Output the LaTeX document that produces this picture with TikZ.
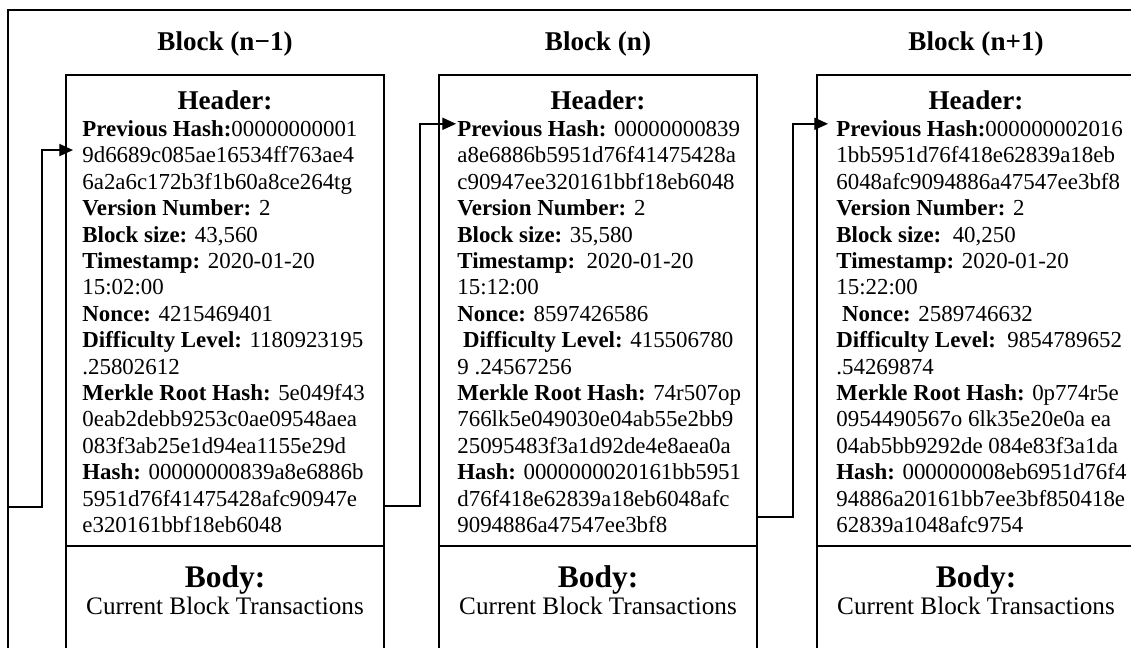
\documentclass[tikz,border=0pt]{standalone}
\usepackage{fontspec}
\setmainfont{Liberation Serif}
\usetikzlibrary{arrows.meta,calc}
\newlength\pxu
\setlength\pxu{0.524pt}
\tikzset{
  blockbox/.style={draw, line width=1pt, rectangle, inner sep=0pt, outer sep=0pt,
    minimum width=318\pxu, anchor=north west},
  link/.style={line width=0.75pt, -{Triangle[length=7.2pt,width=6.4pt]}},
  frameline/.style={line width=0.8pt},
  blocktitle/.style={font=\fontsize{14.2}{17}\selectfont\bfseries, anchor=base, inner sep=0pt},
  hdrlabel/.style={font=\fontsize{14.2}{17}\selectfont\bfseries, anchor=base, inner sep=0pt},
  bodylabel/.style={font=\fontsize{16.5}{20}\selectfont\bfseries, anchor=base, inner sep=0pt},
  bodytext/.style={font=\fontsize{13.2}{16}\selectfont, anchor=base, inner sep=0pt},
  field/.style={font=\fontsize{12}{14}\selectfont, anchor=base west, inner sep=0pt},
}
\begin{document}
\begin{tikzpicture}[x=0.524pt, y=-0.524pt]
  \path[use as bounding box] (0,0) rectangle (1131,648);
  \fill[white] (0,0) rectangle (1131,648);
  \clip (0,0) rectangle (1131,648);

  % outer frame (open at the bottom and on the right)
  \draw[frameline] (8,660) -- (8,10) -- (1140,10);
  \coordinate (inA) at (8,507);

  % header and body boxes of the three blocks
  \node[blockbox, minimum height=471\pxu] (hA) at (66,75) {};
  \node[blockbox, minimum height=120\pxu] (bA) at (hA.south west) {};
  \node[blockbox, minimum height=471\pxu] (hB) at (439,75) {};
  \node[blockbox, minimum height=120\pxu] (bB) at (hB.south west) {};
  \node[blockbox, minimum height=471\pxu] (hC) at (817,75) {};
  \node[blockbox, minimum height=120\pxu] (bC) at (hC.south west) {};

  % titles and section labels
  \foreach \b/\name in {A/{Block (n−1)}, B/{Block (n)}, C/{Block (n+1)}} {
    \node[blocktitle] (t\b) at ($(h\b.north)+(0,-24)$) {\name};
    \node[hdrlabel] (hl\b) at ($(h\b.north)+(0,35)$) {Header:};
    \node[bodylabel] (bl\b) at ($(h\b.south)+(0,41)$) {Body:};
    \node[bodytext] (bt\b) at ($(h\b.south)+(0,69)$) {Current Block Transactions};
  }

  % header fields, block n-1
  \foreach \t [count=\i from 0] in {
    {\textbf{Previous Hash:}00000000001},
    {9d6689c085ae16534ff763ae4},
    {6a2a6c172b3f1b60a8ce264tg},
    {\textbf{Version Number:} 2},
    {\textbf{Block size:} 43,560},
    {\textbf{Timestamp:} 2020-01-20},
    {15:02:00},
    {\textbf{Nonce:} 4215469401},
    {\textbf{Difficulty Level:} 1180923195},
    {.25802612},
    {\textbf{Merkle Root Hash:} 5e049f43},
    {0eab2debb9253c0ae09548aea},
    {083f3ab25e1d94ea1155e29d},
    {\textbf{Hash:} 00000000839a8e6886b},
    {5951d76f41475428afc90947e},
    {e320161bbf18eb6048}} {
    \node[field] (fA\i) at (82,{136.6+26.4*\i}) {\t};
  }

  % header fields, block n
  \foreach \t [count=\i from 0] in {
    {\textbf{Previous Hash:} 00000000839},
    {a8e6886b5951d76f41475428a},
    {c90947ee320161bbf18eb6048},
    {\textbf{Version Number:} 2},
    {\textbf{Block size:} 35,580},
    {\textbf{Timestamp:}\ \ 2020-01-20},
    {15:12:00},
    {\textbf{Nonce:} 8597426586},
    {\hspace*{0.25em}\textbf{Difficulty Level:} 415506780},
    {9 .24567256},
    {\textbf{Merkle Root Hash:} 74r507op},
    {766lk5e049030e04ab55e2bb9},
    {25095483f3a1d92de4e8aea0a},
    {\textbf{Hash:} 0000000020161bb5951},
    {d76f418e62839a18eb6048afc},
    {9094886a47547ee3bf8}} {
    \node[field] (fB\i) at (457,{136.6+26.4*\i}) {\t};
  }

  % header fields, block n+1
  \foreach \t [count=\i from 0] in {
    {\textbf{Previous Hash:}000000002016},
    {1bb5951d76f418e62839a18eb},
    {6048afc9094886a47547ee3bf8},
    {\textbf{Version Number:} 2},
    {\textbf{Block size:}\ \ 40,250},
    {\textbf{Timestamp:} 2020-01-20},
    {15:22:00},
    {\hspace*{0.25em}\textbf{Nonce:} 2589746632},
    {\textbf{Difficulty Level:}\ \ 9854789652},
    {.54269874},
    {\textbf{Merkle Root Hash:} 0p774r5e},
    {0954490567o 6lk35e20e0a ea},
    {04ab5bb9292de 084e83f3a1da},
    {\textbf{Hash:} 000000008eb6951d76f4},
    {94886a20161bb7ee3bf850418e},
    {62839a1048afc9754}} {
    \node[field] (fC\i) at (836,{136.6+26.4*\i}) {\t};
  }

  % hash links between consecutive blocks
  \coordinate (tipA) at ($(fA1.west)+(-9,-5)$);
  \coordinate (tipB) at ($(fB0.west)+(-1,-5)$);
  \coordinate (tipC) at ($(fC0.west)+(-8,-5)$);
  \draw[link] (inA) -- ++(34,0) |- (tipA);
  \draw[link] ($(hA.south east)+(0,-40)$) -- ++(36,0) |- (tipB);
  \draw[link] ($(hB.south east)+(0,-29)$) -- ++(36,0) |- (tipC);
\end{tikzpicture}
\end{document}
